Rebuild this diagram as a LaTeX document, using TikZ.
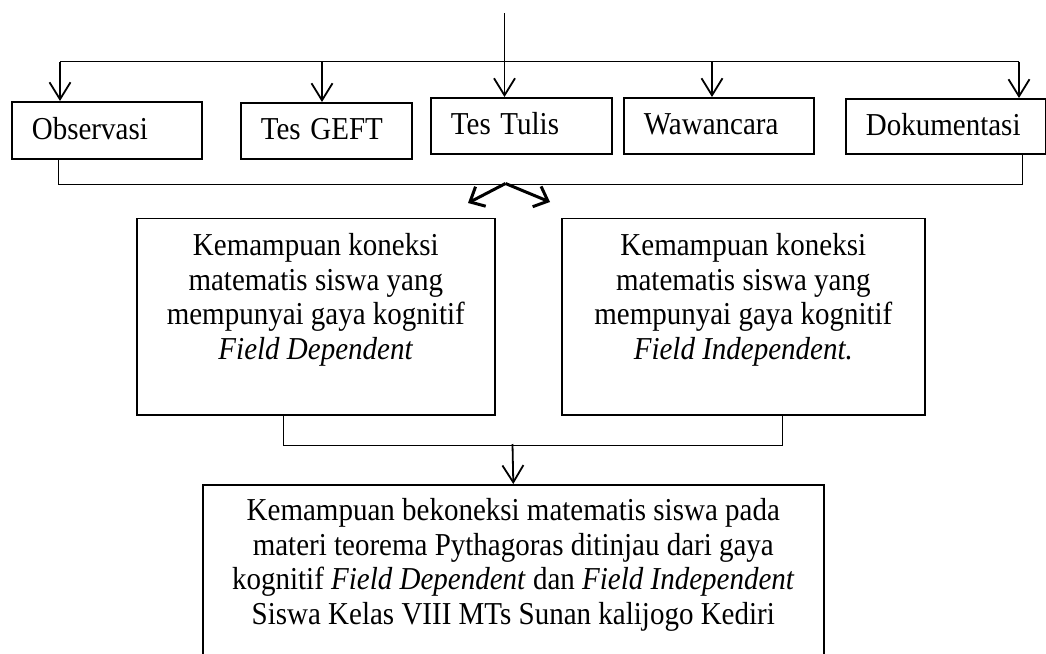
\documentclass[tikz,border=0pt]{standalone}
\usepackage{fontspec}
\usepackage{graphicx}
\setmainfont{Liberation Serif}
\usetikzlibrary{arrows.meta}
\newcommand{\talltext}[1]{\scalebox{1}[1.1]{#1}}
\begin{document}
\begin{tikzpicture}[x=1pt,y=-1pt,
  every node/.style={font=\fontsize{29}{31.36}\selectfont},
  smallbox/.style={draw, line width=1.8pt, inner xsep=20pt, inner ysep=0pt, align=left, text height=22pt, text depth=4pt, anchor=north west},
  bigbox/.style={draw, line width=1.6pt, inner sep=0pt, anchor=north west},
  bus/.style={line width=1.4pt},
  thinline/.style={line width=1.1pt},
  arr/.style={line width=1.8pt, -{Straight Barb[length=17pt,width=21pt]}},
  diag/.style={line width=3pt, -{Straight Barb[length=12pt,width=22pt]}}]
\clip (0,0) rectangle (1046,653);
\fill[white] (0,0) rectangle (1046,653);
% top row boxes
\node[smallbox, text width=150pt, minimum height=57pt] (obs) at (11,101) {\talltext{Observasi}};
\node[smallbox, text width=131pt, minimum height=56pt] (geft) at (240,102) {\talltext{Tes GEFT}};
\node[smallbox, text width=141pt, minimum height=56pt] (tulis) at (430,97) {\talltext{Tes Tulis}};
\node[smallbox, text width=150pt, minimum height=56pt] (waw) at (623,97) {\talltext{Wawancara}};
\node[smallbox, text width=160pt, minimum height=55pt] (dok) at (845,98) {\talltext{Dokumentasi}};
% middle boxes
\node[bigbox] (L) at (136,217.5) {\talltext{\parbox[c][178.6pt][t]{358pt}{\centering\rule{0pt}{34.1pt}Kemampuan koneksi\\ matematis siswa yang\\ mempunyai gaya kognitif\\ \textit{Field Dependent}}}};
\node[bigbox] (R) at (561,217.5) {\talltext{\parbox[c][178.6pt][t]{363pt}{\centering\rule{0pt}{34.1pt}Kemampuan koneksi\\ matematis siswa yang\\ mempunyai gaya kognitif\\ \textit{Field Independent.}}}};
% bottom box
\node[bigbox] (B) at (202,484) {\talltext{\parbox[c][227pt][t]{621pt}{\centering\rule{0pt}{32.7pt}Kemampuan bekoneksi matematis siswa pada\\ materi teorema Pythagoras ditinjau dari gaya\\ kognitif \textit{Field Dependent} dan \textit{Field Independent}\\ Siswa Kelas VIII MTs Sunan kalijogo Kediri}}};
% top distribution
\coordinate (top) at (504.5,13);
\coordinate (b1) at (60,61.5);
\coordinate (b2) at (322,61.5);
\coordinate (b3) at (504.5,61.5);
\coordinate (b4) at (712,61.5);
\coordinate (b5) at (1019,61.5);
\draw[thinline] (top) -- (b3);
\draw[bus] (b1) -- (b5);
\draw[arr] (b1) -- (b1 |- obs.north);
\draw[arr] (b2) -- (b2 |- geft.north);
\draw[arr] (b3) -- (b3 |- tulis.north);
\draw[arr] (b4) -- (b4 |- waw.north);
\draw[arr] (b5) -- (b5 |- dok.north);
% collecting line
\draw[thinline] ([xshift=-48pt]obs.south) -- ++(0,25) -| ([xshift=77pt]dok.south);
\coordinate (sp) at (505.5,183.5);
\coordinate (tl) at (468,203);
\coordinate (tr) at (550,202);
\draw[diag] (sp) -- (tl);
\draw[diag] (sp) -- (tr);
% middle collecting
\draw[thinline] ([xshift=-32pt]L.south) -- ++(0,30) -| ([xshift=39.5pt]R.south);
\coordinate (m) at (512.5,444);
\draw[arr] (m) -- (B.north);
\end{tikzpicture}
\end{document}
